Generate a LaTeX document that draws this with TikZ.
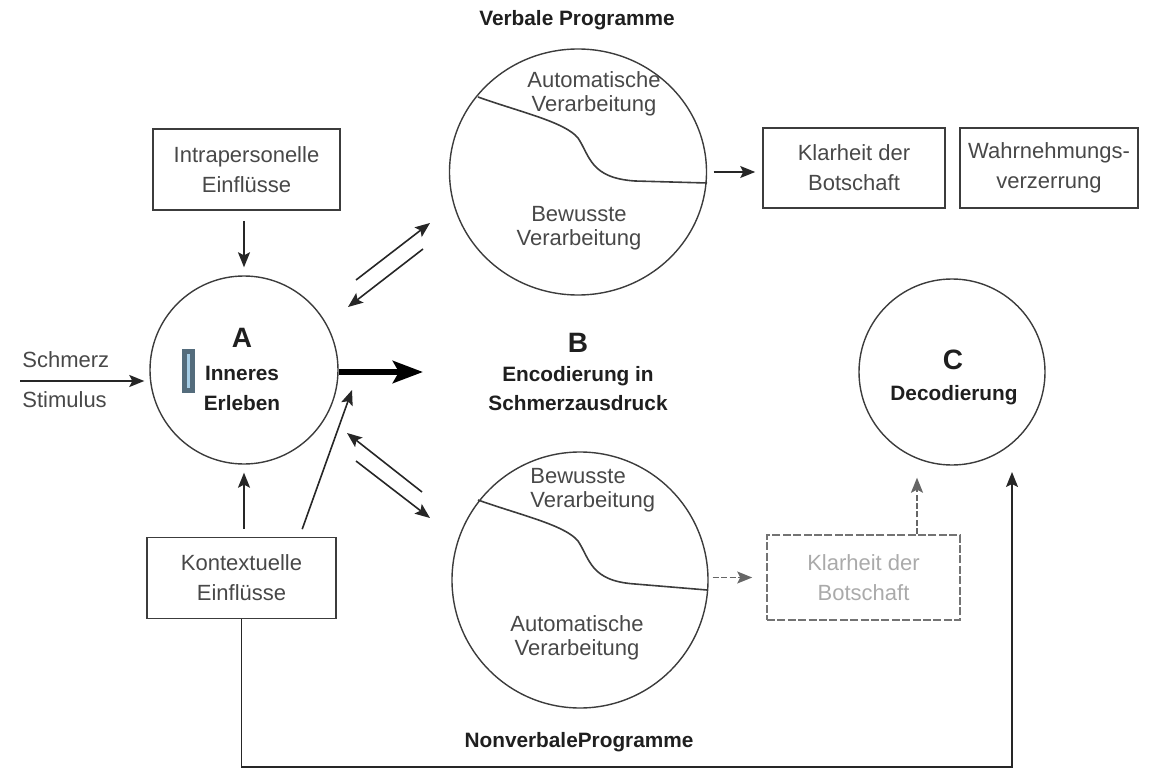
\documentclass[tikz,border=0pt]{standalone}
\usepackage{fontspec}
\setmainfont{Liberation Sans}
\usetikzlibrary{
  arrows.meta,
  positioning,
  shapes.geometric
}
\definecolor{inkgray}{RGB}{72,72,72}
\definecolor{linegray}{RGB}{60,60,60}
\definecolor{fadegray}{RGB}{170,170,170}
\definecolor{markblue}{RGB}{84,108,124}
\definecolor{markfill}{RGB}{165,205,230}
\tikzset{
  txt/.style={font=\fontsize{11}{15}\selectfont,text=inkgray,align=center,inner sep=0pt},
  ringtxt/.style={font=\fontsize{11}{11.8}\selectfont,text=inkgray,align=center,inner sep=0pt},
  headtxt/.style={font=\bfseries\fontsize{10.4}{14.5}\selectfont,text=black!88,align=center,inner sep=0pt},
  bigletter/.style={font=\bfseries\fontsize{14}{16}\selectfont,text=black!88,inner sep=0pt},
  infobox/.style={draw=linegray,line width=0.8pt,minimum width=#1,minimum height=40.5pt,txt},
  procring/.style={circle,draw=linegray,line width=0.7pt,minimum size=#1,inner sep=0pt},
  splitline/.style={linegray,line width=0.8pt},
  arr/.style={-{Stealth[length=7.5pt,width=6pt,inset=1.5pt]},line width=0.8pt,black!85},
  dasharr/.style={arr,dash pattern=on 3pt off 1.2pt,black!60},
  fatarr/.style={-{Stealth[length=15pt,width=11pt,inset=3pt]},line width=3pt,black}
}
% boundary between automatic and conscious processing
\newcommand{\splitcurve}[2]{%
  \draw[splitline] (478,{97+#1}) .. controls (520,{112+#1}) and (565,{122+#1}) .. (578,{138+#1})
    .. controls (590,{156+#1}) and (590,{178+#1}) .. (635,{181+#1}) -- (707,{183+#2});%
}

\begin{document}
\begin{tikzpicture}[x=0.5pt,y=-0.5pt]
  \useasboundingbox (0,0) rectangle (1151,770);

  % A: inner experience
  \node[procring=94pt] (circA) at (244,370) {};
  \node[bigletter] (labA) at (242,338) {A};
  \node[headtxt,font=\bfseries\fontsize{10.4}{15}\selectfont] (txtA) at (242,388) {Inneres\\Erleben};
  \node[draw=markblue,fill=markfill,line width=2.5pt,minimum width=4pt,minimum height=19.5pt,inner sep=0pt] (markA) at (188.5,371) {};

  \node[txt,anchor=west] (schmTxt) at (22,360) {Schmerz};
  \node[txt,anchor=west] (stimTxt) at (22,400) {Stimulus};
  \coordinate (stim) at (20,381);
  \draw[arr,shorten >=2.5pt] (stim) -- (stim -| circA.west);

  \node[infobox=93.5pt] (intra) at (246.5,169.5) {Intrapersonelle\\Einflüsse};
  \node[infobox=94.5pt] (kontext) at (241.5,578) {Kontextuelle\\Einflüsse};
  \draw[arr,shorten <=5pt,shorten >=4pt] (intra.south -| circA.north) -- (circA.north);
  \draw[arr,shorten <=4pt,shorten >=4pt] (kontext.north -| circA.south) -- (circA.south);
  \coordinate (kToA) at (352,390);
  \draw[arr,shorten <=4pt] ([xshift=29pt]kontext.north) -- (kToA);

  % B: encoding
  \node[bigletter] (labB) at (578,343) {B};
  \node[headtxt] (txtB) at (578,389) {Encodierung in\\Schmerzausdruck};
  \coordinate (encB) at (423,372);
  \draw[fatarr] (circA.east |- encB) -- (encB);

  \node[headtxt] (verbTitle) at (577,20) {Verbale Programme};
  \node[ellipse,draw=linegray,line width=0.7pt,minimum width=128.5pt,minimum height=123pt,inner sep=0pt] (verbRing) at (578,172) {};
  \splitcurve{0}{0}
  \node[ringtxt] (verbAuto) at (594,94) {Automatische\\Verarbeitung};
  \node[ringtxt] (verbConsc) at (579,228) {Bewusste\\Verarbeitung};

  \node[headtxt] (nvTitle) at (579,742) {NonverbaleProgramme};
  \node[procring=128pt] (nvRing) at (580,580) {};
  \splitcurve{403}{407}
  \node[ringtxt,align=left,anchor=west] (nvConsc) at (530,490) {Bewusste\\Verarbeitung};
  \node[ringtxt] (nvAuto) at (577,638) {Automatische\\Verarbeitung};

  % arrows between A and the programmes
  \coordinate (uA1) at (356,280); \coordinate (uB1) at (430,223);
  \coordinate (uB2) at (423,249); \coordinate (uA2) at (348,307);
  \coordinate (lB1) at (422,492); \coordinate (lA1) at (347,433);
  \coordinate (lA2) at (356,461); \coordinate (lB2) at (430,518);
  \draw[arr] (uA1) -- (uB1);
  \draw[arr] (uB2) -- (uA2);
  \draw[arr] (lB1) -- (lA1);
  \draw[arr] (lA2) -- (lB2);

  % outcome boxes
  \node[infobox=91pt,minimum height=40pt] (clarity) at (854,168) {Klarheit der\\Botschaft};
  \node[infobox=89pt,minimum height=40pt] (distort) at (1049,168) {Wahrnehmungs-\\verzerrung};
  \draw[arr,shorten <=3.25pt,shorten >=3.5pt] (verbRing.east) -- (clarity.west |- verbRing.east);

  \node[infobox=96.5pt,minimum height=42.5pt,draw=black!55,text=fadegray,dash pattern=on 4pt off 1.2pt] (clarityNv) at (863.5,577.5) {Klarheit der\\Botschaft};
  \draw[dasharr,shorten <=2pt,shorten >=7pt] (nvRing.east |- clarityNv.west) -- (clarityNv.west);

  % C: decoding
  \node[procring=93pt] (decC) at (952,372) {};
  \node[bigletter] (labC) at (953,360) {C};
  \node[headtxt] (txtC) at (954,395) {Decodierung};
  \coordinate (upC) at ([xshift=26.75pt]clarityNv.north);
  \draw[dasharr,shorten >=6pt] (upC) -- (upC |- decC.south);

  \coordinate (loopR) at (1012,767);
  \coordinate (loopUp) at (1012,472);
  \draw[arr] (kontext.south) |- (loopR) -- (loopUp);
\end{tikzpicture}
\end{document}
